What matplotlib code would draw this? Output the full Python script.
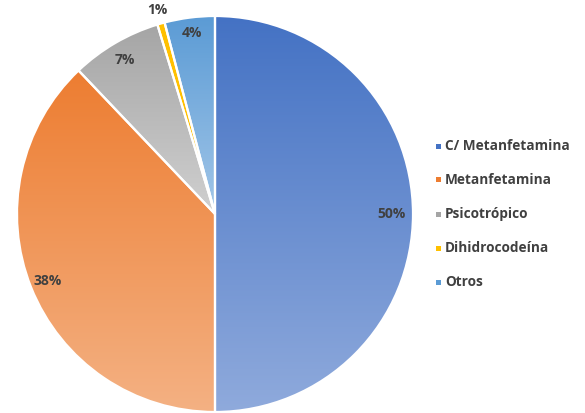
import matplotlib.pyplot as plt
from matplotlib.colors import LinearSegmentedColormap
import numpy as np


CATEGORIES = ['C/ Metanfetamina', 'Metanfetamina', 'Psicotrópico', 'Dihidrocodeína', 'Otros']
SHARES = [50.0, 37.9, 7.4, 0.6, 4.1]
TOP_COLORS = ['#4472C4', '#ED7D31', '#A5A5A5', '#FFC000', '#5B9BD5']
BOTTOM_COLORS = ['#8FAADC', '#F4B183', '#D0D0D0', '#FFC000', '#A2C6E8']
LABEL_DIST = [0.89, 0.91, 0.90, 1.07, 0.92]

W, H = 585, 413
CX, CY, R = 215, 199, 198  # pie centre (from bottom) and radius, pixels


def plotting_config():
    plt.rcParams.update({
        'font.family': ['Open Sans', 'DejaVu Sans'],
        'font.weight': 'bold',
        'text.color': '#404040',
    })


def main():
    plotting_config()
    fig = plt.figure(figsize=(W / 100, H / 100), dpi=100)
    ax = fig.add_axes([(CX - R) / W, (CY - R) / H, 2 * R / W, 2 * R / H])
    wedges, _ = ax.pie(SHARES, startangle=90, counterclock=False,
                       wedgeprops=dict(edgecolor='white', linewidth=1.6))
    ax.set_xlim(-1, 1)
    ax.set_ylim(-1, 1)
    ax.set_aspect('auto')
    ax.axis('off')

    grad = np.linspace(0, 1, 256).reshape(-1, 1)
    for w, top, bot in zip(wedges, TOP_COLORS, BOTTOM_COLORS):
        verts = w.get_path().vertices
        x0, x1 = verts[:, 0].min(), verts[:, 0].max()
        y0, y1 = verts[:, 1].min(), verts[:, 1].max()
        cmap = LinearSegmentedColormap.from_list('g', [bot, top])
        im = ax.imshow(grad, cmap=cmap, extent=(x0, x1, y0, y1),
                       origin='lower', aspect='auto', zorder=0.5)
        im.set_clip_path(w)
        w.set_facecolor('none')
        w.set_zorder(1)

    for w, share, d in zip(wedges, SHARES, LABEL_DIST):
        ang = np.deg2rad((w.theta1 + w.theta2) / 2)
        ax.text(d * np.cos(ang), d * np.sin(ang), f'{share:.0f}%',
                ha='center', va='center', fontsize=10, zorder=3)
    ax.set_xlim(-1, 1)
    ax.set_ylim(-1, 1)

    # legend
    for i, (name, col) in enumerate(zip(CATEGORIES, TOP_COLORS)):
        y = 1 - (146 + i * 34) / H
        fig.patches.append(plt.Rectangle((436 / W, y - 2.5 / H), 5 / W, 5 / H,
                                         transform=fig.transFigure,
                                         facecolor=col, edgecolor='none'))
        fig.text(445 / W, y, name, ha='left', va='center', fontsize=9.8)

    fig.savefig('out.png', dpi=100)


if __name__ == "__main__":
    main()
